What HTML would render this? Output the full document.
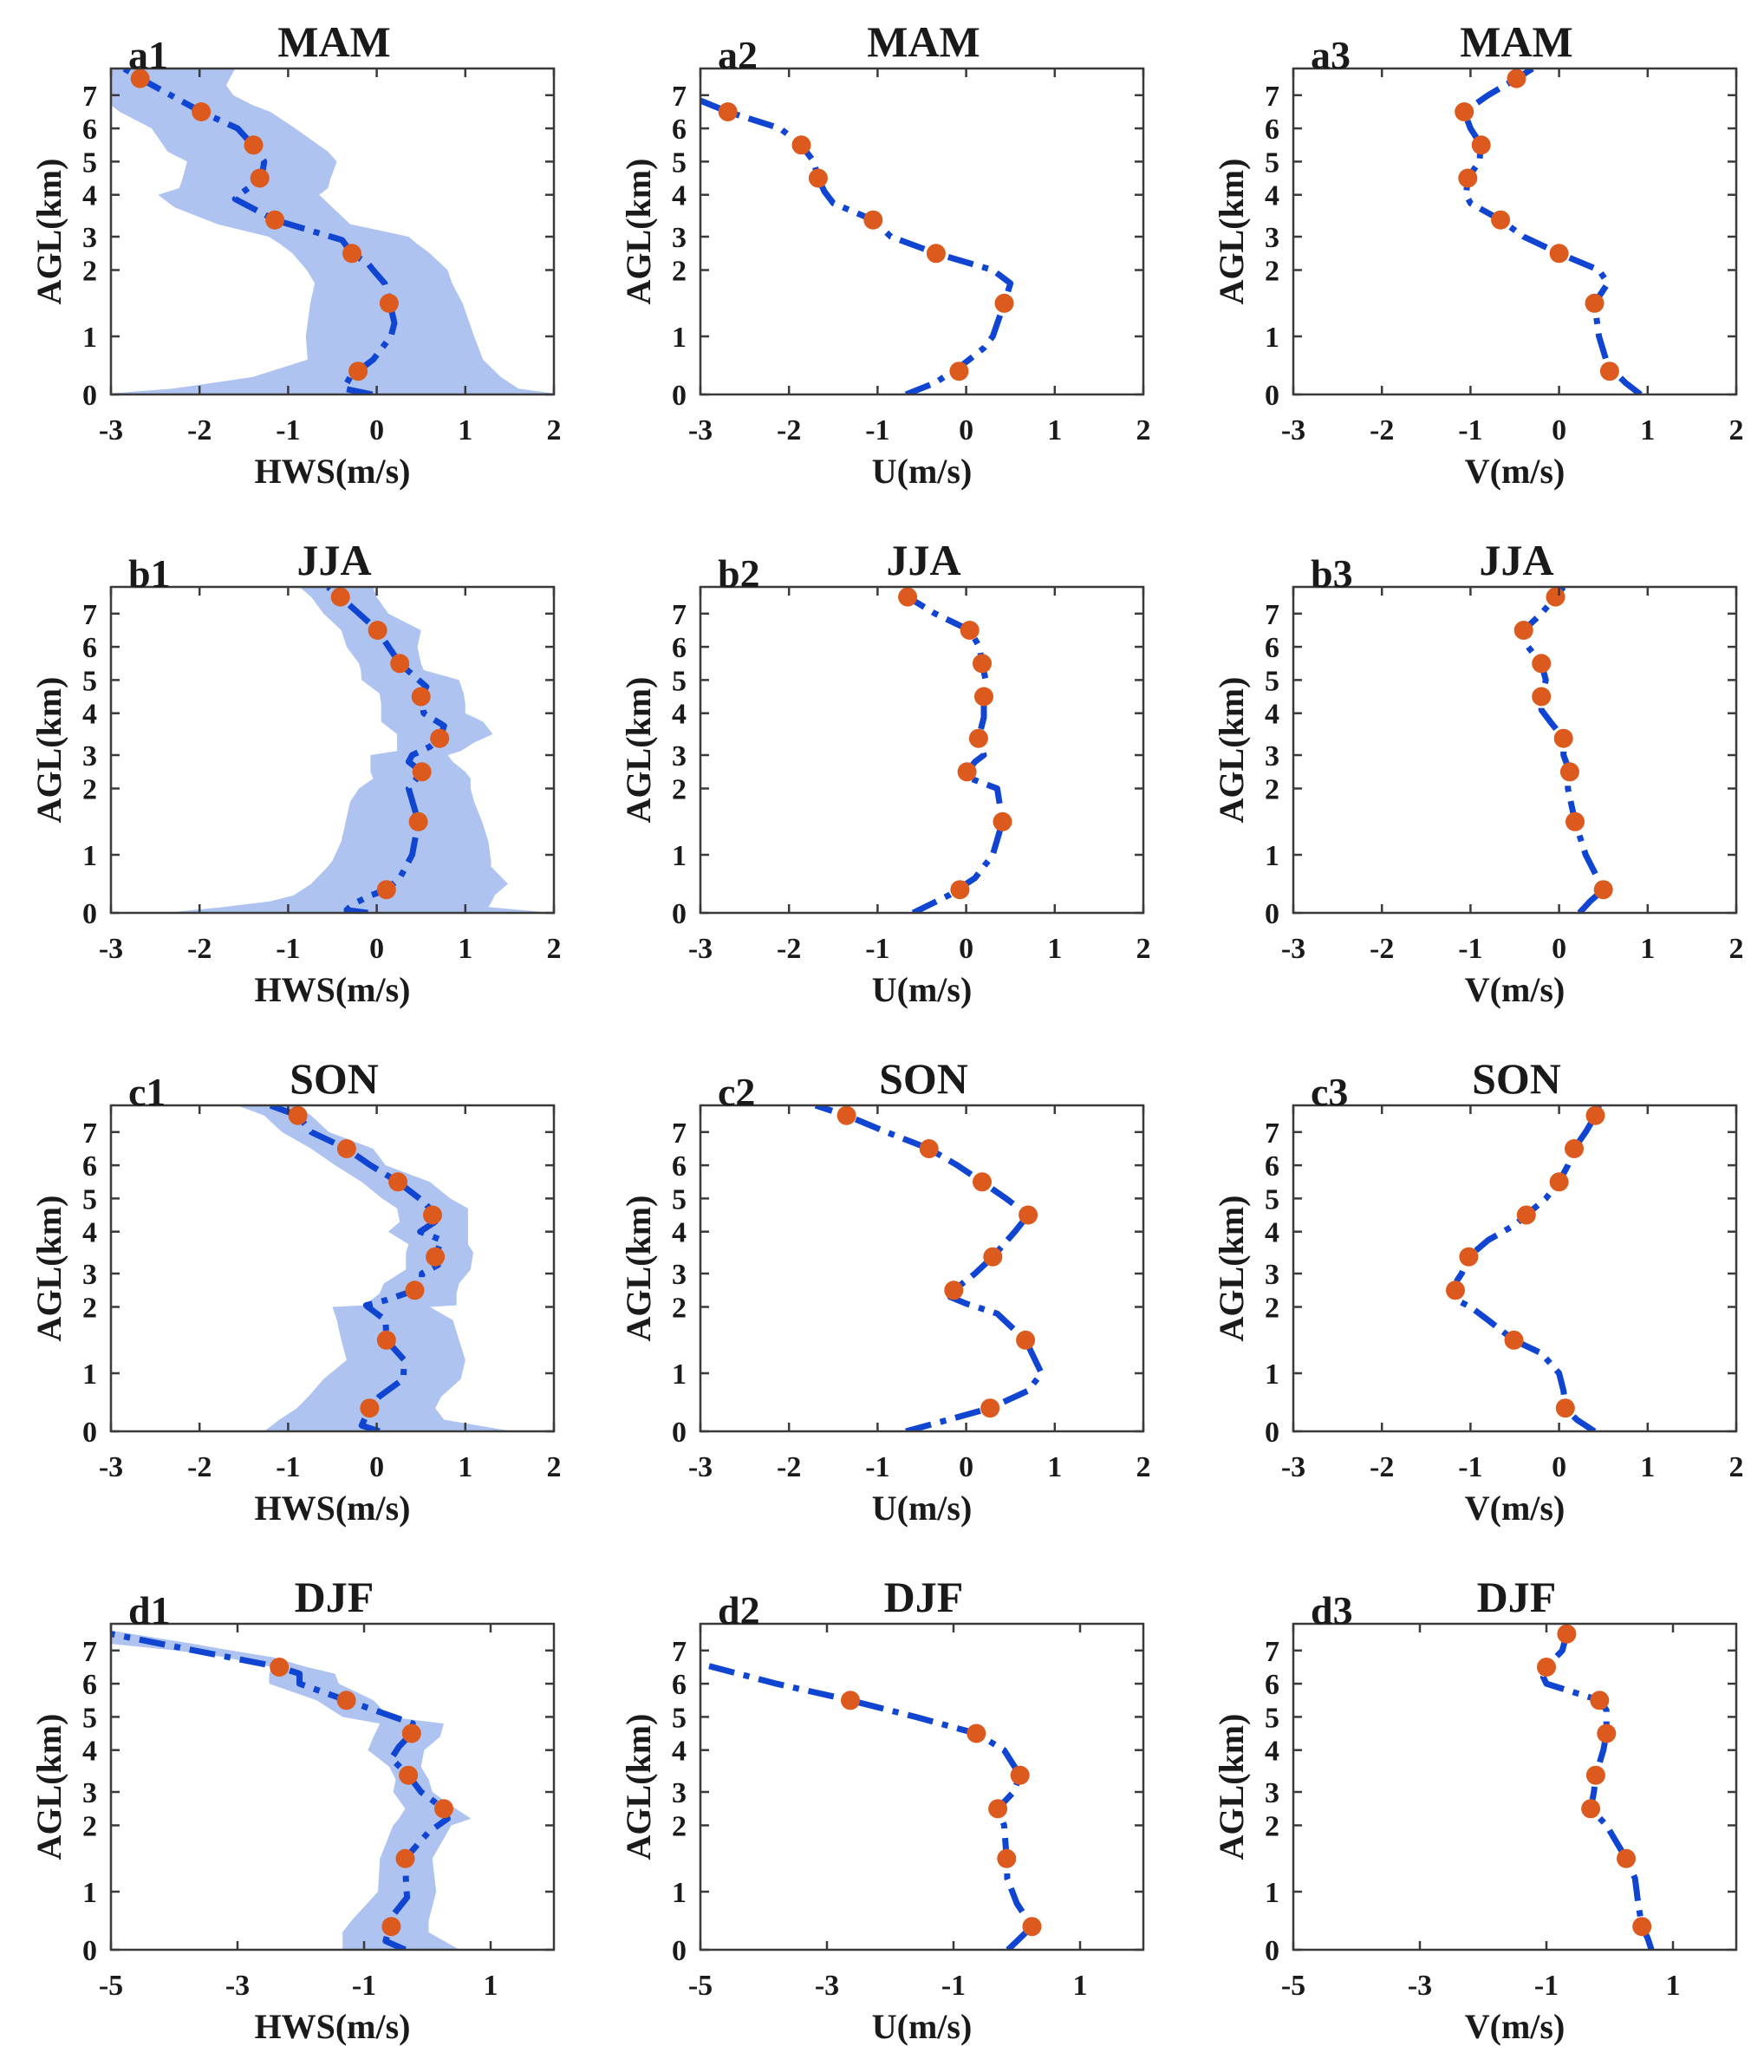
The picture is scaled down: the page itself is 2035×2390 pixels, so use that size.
<!DOCTYPE html>
<html><head><meta charset="utf-8">
<style>
html,body{margin:0;padding:0;background:#fff;}
svg{display:block;}
text{font-family:"Liberation Serif","DejaVu Serif",serif;font-weight:bold;fill:#1a1a1a;}
</style></head>
<body>
<svg id="fig" width="2035" height="2390" viewBox="0 0 2035 2390" xmlns="http://www.w3.org/2000/svg"></svg>
<script>
// ---------- data ----------
const kmTicks = [0,1,2,3,4,5,6,7];
const xTicksABC = [-3,-2,-1,0,1,2];
const xTicksD = [-5,-3,-1,1];
const seasons = ["MAM","JJA","SON","DJF"];
const xLabels = ["HWS(m/s)","U(m/s)","V(m/s)"];
const dotH = [0.4,1.5,2.5,3.4,4.5,5.5,6.5,7.5];

// a1
const a1LineH = [0,0.1,0.3,0.6,1.0,1.2,1.5,1.8,2.0,2.2,2.5,2.9,3.4,3.9,4.0,4.5,5.0,5.5,6.0,6.5,7.4,7.8];
const a1LineX = [-0.05,-0.37,-0.3,-0.04,0.16,0.2,0.15,0.09,-0.04,-0.1,-0.28,-0.39,-1.15,-1.6,-1.55,-1.3,-1.27,-1.4,-1.57,-1.98,-2.6,-2.85];
const a1DotX = [-0.21,0.14,-0.28,-1.15,-1.32,-1.39,-1.98,-2.67];
const a1BandH = [0,0.02,0.1,0.3,0.6,1.0,1.5,1.8,2.0,2.5,2.8,3.0,3.3,3.7,4.0,4.2,4.5,5.0,5.3,6.0,6.5,6.7,7.0,7.3,7.8];
const a1BandLo = [-3,-3,-2.3,-1.4,-0.78,-0.8,-0.75,-0.7,-0.79,-0.95,-1.1,-1.22,-1.8,-2.28,-2.47,-2.23,-2.19,-2.14,-2.36,-2.54,-2.9,-3,-3,-3,-3];
const a1BandHi = [2,1.98,1.6,1.4,1.2,1.1,0.97,0.85,0.8,0.6,0.45,0.36,-0.3,-0.5,-0.65,-0.55,-0.52,-0.45,-0.55,-0.92,-1.2,-1.4,-1.62,-1.7,-1.6];
// b1
const b1LineH = [0,0.05,0.15,0.3,0.4,0.6,1.0,1.5,2.0,2.3,2.5,2.8,3.0,3.2,3.4,3.7,4.0,4.5,4.8,5.5,6.5,7.0,7.5,7.8];
const b1LineX = [-0.1,-0.34,-0.27,-0.07,0.11,0.26,0.4,0.47,0.36,0.45,0.51,0.36,0.4,0.6,0.71,0.76,0.53,0.5,0.56,0.26,0.01,-0.2,-0.41,-0.55];
const b1DotX = [0.11,0.47,0.51,0.71,0.5,0.26,0.01,-0.41];
const b1BandH = [0,0.1,0.2,0.3,0.5,0.8,0.9,1.2,1.5,1.8,2.0,2.3,2.5,2.8,3.0,3.1,3.3,3.5,3.8,4.0,4.3,4.6,5.0,5.3,5.5,6.0,6.5,7.0,7.5,7.8];
const b1BandLo = [-2.4,-1.73,-1.2,-0.94,-0.74,-0.55,-0.5,-0.4,-0.35,-0.3,-0.2,-0.04,-0.07,-0.07,-0.07,0.23,0.23,0.23,0.05,0.05,0.05,0.03,-0.17,-0.18,-0.2,-0.34,-0.4,-0.6,-0.74,-0.87];
const b1BandHi = [2.0,1.26,1.3,1.33,1.48,1.29,1.29,1.26,1.19,1.1,1.06,1.06,1.0,0.86,0.8,0.95,1.1,1.31,1.2,1.0,1.0,0.98,0.93,0.53,0.5,0.46,0.5,0.13,0.0,-0.04];
// c1
const c1LineH = [0,0.1,0.4,0.6,0.9,1.2,1.5,1.8,2.0,2.05,2.2,2.5,2.7,3.0,3.2,3.4,3.8,4.0,4.3,4.6,4.9,5.5,6.0,6.5,7.0,7.5,7.8];
const c1LineX = [0.03,-0.17,-0.08,0.03,0.3,0.31,0.11,0.1,-0.1,-0.12,0.1,0.43,0.51,0.51,0.69,0.66,0.73,0.49,0.66,0.63,0.53,0.24,-0.07,-0.34,-0.74,-0.89,-1.2];
const c1DotX = [-0.08,0.11,0.43,0.66,0.63,0.24,-0.34,-0.89];
const c1BandH = [0,0.2,0.4,0.6,0.9,1.2,1.5,1.8,2.0,2.05,2.4,2.7,3.1,3.5,3.7,4.0,4.3,4.7,5.0,5.5,6.0,6.5,7.0,7.5,7.8];
const c1BandLo = [-1.27,-1.1,-0.9,-0.77,-0.6,-0.34,-0.4,-0.45,-0.5,-0.14,0.03,0.08,0.33,0.33,0.36,0.13,0.26,0.23,0.06,-0.17,-0.47,-0.74,-1.07,-1.27,-1.57];
const c1BandHi = [1.53,0.76,0.66,0.73,0.95,1.0,0.93,0.86,0.6,0.9,0.9,0.93,1.06,1.09,1.03,1.03,1.03,1.03,0.83,0.6,0.1,-0.04,-0.54,-0.74,-0.9];
// d1
const d1LineH = [0,0.15,0.6,0.9,1.2,1.5,1.9,2.2,2.5,3.0,3.4,3.8,4.1,4.5,4.8,5.5,6.0,6.3,6.5,7.0,7.5];
const d1LineX = [-0.35,-0.66,-0.54,-0.32,-0.34,-0.35,0.02,0.32,0.26,-0.1,-0.3,-0.57,-0.45,-0.25,-0.23,-1.28,-2.02,-2.02,-2.34,-3.68,-5.0];
const d1DotH = [0.4,1.5,2.5,3.4,4.5,5.5,6.5];
const d1DotX = [-0.57,-0.35,0.26,-0.3,-0.25,-1.28,-2.34];
const d1BandH = [0,0.3,0.5,1.0,1.5,2.0,2.2,2.5,3.0,3.3,3.6,4.0,4.4,4.8,5.0,5.5,6.0,6.3,6.5,6.8,7.0,7.2,7.6];
const d1BandLo = [-1.34,-1.34,-1.2,-0.78,-0.75,-0.54,-0.45,-0.35,-0.54,-0.5,-0.6,-0.94,-0.85,-0.75,-1.34,-1.75,-2.5,-2.5,-2.45,-3.2,-3.98,-5.0,-5.0];
const d1BandHi = [0.51,0.02,0.02,0.14,0.08,0.38,0.69,0.45,0.08,0.02,-0.1,-0.05,0.2,0.26,-0.6,-0.85,-1.4,-1.46,-1.9,-2.45,-3.1,-3.7,-5.0];
// a2
const a2LineH = [0,0.2,0.5,0.8,1.0,1.5,1.8,2.0,2.5,3.0,3.4,3.8,4.1,4.5,5.0,5.5,6.0,6.5,7.0];
const a2LineX = [-0.68,-0.35,-0.05,0.2,0.3,0.43,0.5,0.3,-0.34,-0.85,-1.05,-1.5,-1.6,-1.67,-1.72,-1.86,-2.1,-2.69,-3.15];
const a2DotH = [0.4,1.5,2.5,3.4,4.5,5.5,6.5];
const a2DotX = [-0.08,0.43,-0.34,-1.05,-1.67,-1.86,-2.69];
// a3
const a3LineH = [0,0.2,0.5,1.0,1.5,1.8,2.0,2.5,3.0,3.4,3.8,4.0,4.5,5.0,5.5,6.0,6.5,7.0,7.5,7.8];
const a3LineX = [0.92,0.75,0.55,0.45,0.4,0.55,0.45,0,-0.4,-0.66,-1.0,-1.05,-1.03,-0.9,-0.88,-1.0,-1.07,-0.8,-0.48,-0.3];
const a3DotX = [0.57,0.4,0,-0.66,-1.03,-0.88,-1.07,-0.48];
// b2
const b2LineH = [0,0.3,0.6,1.0,1.5,2.0,2.3,2.5,2.8,3.0,3.4,3.9,4.5,5.0,5.5,6.0,6.5,7.0,7.5,7.8];
const b2LineX = [-0.6,-0.2,0.1,0.3,0.41,0.35,0.05,0.01,0.1,0.2,0.14,0.2,0.2,0.22,0.18,0.15,0.04,-0.35,-0.66,-0.8];
const b2DotX = [-0.07,0.41,0.01,0.14,0.2,0.18,0.04,-0.66];
// b3
const b3LineH = [0,0.2,0.4,0.7,1.0,1.5,2.0,2.2,2.5,3.0,3.4,3.8,4.1,4.5,5.0,5.5,6.0,6.5,7.0,7.5,7.8];
const b3LineX = [0.23,0.35,0.5,0.4,0.3,0.18,0.1,0.1,0.12,0.05,0.05,-0.1,-0.2,-0.2,-0.15,-0.2,-0.35,-0.4,-0.2,-0.04,0.05];
const b3DotX = [0.5,0.18,0.12,0.05,-0.2,-0.2,-0.4,-0.04];
// c2
const c2LineH = [0,0.2,0.4,0.7,1.0,1.5,1.9,2.1,2.3,2.5,3.0,3.4,4.0,4.5,5.0,5.5,6.0,6.5,7.0,7.5,7.8];
const c2LineX = [-0.68,-0.2,0.27,0.7,0.85,0.67,0.35,0,-0.18,-0.14,0.1,0.3,0.55,0.7,0.45,0.18,-0.1,-0.42,-0.9,-1.35,-1.7];
const c2DotX = [0.27,0.67,-0.14,0.3,0.7,0.18,-0.42,-1.35];
// c3
const c3LineH = [0,0.2,0.4,0.7,1.0,1.3,1.5,1.8,2.0,2.2,2.5,2.8,3.0,3.4,3.8,4.2,4.5,5.0,5.5,6.0,6.5,7.0,7.5,7.8];
const c3LineX = [0.4,0.2,0.07,0.05,0,-0.2,-0.51,-0.8,-1.0,-1.15,-1.17,-1.15,-1.1,-1.02,-0.8,-0.5,-0.37,-0.15,0,0.1,0.17,0.3,0.41,0.45];
const c3DotX = [0.07,-0.51,-1.17,-1.02,-0.37,0,0.17,0.41];
// d2
const d2LineH = [0,0.2,0.4,0.8,1.2,1.5,2.0,2.5,3.0,3.4,4.0,4.5,5.0,5.5,6.0,6.6];
const d2LineX = [-0.14,0.05,0.24,0,-0.15,-0.16,-0.2,-0.3,-0.05,0.05,-0.2,-0.64,-1.6,-2.63,-3.8,-5.0];
const d2DotH = [0.4,1.5,2.5,3.4,4.5,5.5];
const d2DotX = [0.24,-0.16,-0.3,0.05,-0.64,-2.63];
// d3
const d3LineH = [0,0.2,0.4,0.8,1.2,1.5,2.0,2.5,3.0,3.4,4.0,4.5,5.0,5.2,5.5,6.0,6.2,6.5,7.0,7.5,7.8];
const d3LineX = [0.66,0.6,0.51,0.45,0.4,0.26,-0.05,-0.3,-0.25,-0.22,-0.1,-0.05,-0.05,-0.05,-0.16,-1.0,-1.05,-1.0,-0.75,-0.68,-0.65];
const d3DotX = [0.51,0.26,-0.3,-0.22,-0.05,-0.16,-1.0,-0.68];

// ---------- layout ----------
const NS = "http://www.w3.org/2000/svg";
const svg = document.getElementById("fig");
const colX = [128, 808, 1492];
const PW = 511;
const rowBottom = [455, 1053, 1651, 2249];
const PH = 376;
const kmOffsets = [0,67,143.5,182,230.3,268.6,306.9,345.2];

function mk(tag, attrs, parent){
  const e = document.createElementNS(NS, tag);
  for (const k in attrs) e.setAttribute(k, attrs[k]);
  (parent||svg).appendChild(e);
  return e;
}
function yOff(h){
  if (h <= 0) return kmOffsets[0] + h*kmOffsets[1];
  if (h >= 7) return kmOffsets[7] + (h-7)*(kmOffsets[7]-kmOffsets[6]);
  const i = Math.floor(h);
  return kmOffsets[i] + (h-i)*(kmOffsets[i+1]-kmOffsets[i]);
}

const panels = [
  {id:"a1",r:0,c:0,lh:a1LineH,lx:a1LineX,dh:dotH,dx:a1DotX,bh:a1BandH,lo:a1BandLo,hi:a1BandHi},
  {id:"a2",r:0,c:1,lh:a2LineH,lx:a2LineX,dh:a2DotH,dx:a2DotX},
  {id:"a3",r:0,c:2,lh:a3LineH,lx:a3LineX,dh:dotH,dx:a3DotX},
  {id:"b1",r:1,c:0,lh:b1LineH,lx:b1LineX,dh:dotH,dx:b1DotX,bh:b1BandH,lo:b1BandLo,hi:b1BandHi},
  {id:"b2",r:1,c:1,lh:b2LineH,lx:b2LineX,dh:dotH,dx:b2DotX},
  {id:"b3",r:1,c:2,lh:b3LineH,lx:b3LineX,dh:dotH,dx:b3DotX},
  {id:"c1",r:2,c:0,lh:c1LineH,lx:c1LineX,dh:dotH,dx:c1DotX,bh:c1BandH,lo:c1BandLo,hi:c1BandHi},
  {id:"c2",r:2,c:1,lh:c2LineH,lx:c2LineX,dh:dotH,dx:c2DotX},
  {id:"c3",r:2,c:2,lh:c3LineH,lx:c3LineX,dh:dotH,dx:c3DotX},
  {id:"d1",r:3,c:0,lh:d1LineH,lx:d1LineX,dh:d1DotH,dx:d1DotX,bh:d1BandH,lo:d1BandLo,hi:d1BandHi},
  {id:"d2",r:3,c:1,lh:d2LineH,lx:d2LineX,dh:d2DotH,dx:d2DotX},
  {id:"d3",r:3,c:2,lh:d3LineH,lx:d3LineX,dh:dotH,dx:d3DotX}
];

const defs = mk("defs",{});
panels.forEach(p=>{
  const L = colX[p.c], B = rowBottom[p.r], T = B - PH;
  const xmin = p.r===3 ? -5 : -3, xmax = 2;
  const xt = p.r===3 ? xTicksD : xTicksABC;
  const X = v => L + (v - xmin)/(xmax - xmin)*PW;
  const Y = h => B - yOff(h);

  const g = mk("g",{});
  
  

  const cp = mk("clipPath",{id:"clip-"+p.id}, defs);
  mk("rect",{x:L,y:T,width:PW,height:PH}, cp);
  const plot = mk("g",{"clip-path":"url(#clip-"+p.id+")"}, g);

  if (p.bh){
    let pts = [];
    for (let i=0;i<p.bh.length;i++) pts.push(X(p.lo[i]).toFixed(1)+","+Y(p.bh[i]).toFixed(1));
    for (let i=p.bh.length-1;i>=0;i--) pts.push(X(p.hi[i]).toFixed(1)+","+Y(p.bh[i]).toFixed(1));
    const band = mk("polygon",{points:pts.join(" "),fill:"#aec3ef",stroke:"none"}, plot);
    
    
  }
  const lp = p.lh.map((h,i)=>X(p.lx[i]).toFixed(1)+","+Y(h).toFixed(1)).join(" ");
  const line = mk("polyline",{points:lp,fill:"none",stroke:"#1045d2","stroke-width":7,"stroke-dasharray":"30 11 7 11","stroke-linejoin":"round"}, plot);
  
  
  p.dh.forEach((h,i)=>{
    const d = mk("circle",{cx:X(p.dx[i]).toFixed(1),cy:Y(h).toFixed(1),r:11,fill:"#dc5a1e"}, plot);
    
    
  });

  const frame = mk("rect",{x:L,y:T,width:PW,height:PH,fill:"none",stroke:"#3a3a3a","stroke-width":2.5}, g);
  
  

  xt.forEach(v=>{
    const x = X(v);
    mk("line",{x1:x,y1:B,x2:x,y2:B-10,stroke:"#3a3a3a","stroke-width":2.5}, g);
    mk("line",{x1:x,y1:T,x2:x,y2:T+10,stroke:"#3a3a3a","stroke-width":2.5}, g);
    const t = mk("text",{x:x,y:B+52,"text-anchor":"middle","font-size":34}, g);
    t.textContent = String(v);
    
    
  });
  kmTicks.forEach(k=>{
    const y = Y(k);
    mk("line",{x1:L,y1:y,x2:L+10,y2:y,stroke:"#3a3a3a","stroke-width":2.5}, g);
    mk("line",{x1:L+PW,y1:y,x2:L+PW-10,y2:y,stroke:"#3a3a3a","stroke-width":2.5}, g);
    const t = mk("text",{x:L-16,y:y+12,"text-anchor":"end","font-size":34}, g);
    t.textContent = String(k);
    
    
  });
  const xl = mk("text",{x:L+PW/2,y:B+102,"text-anchor":"middle","font-size":40}, g);
  xl.textContent = xLabels[p.c];
  
  
  const yx = L-58, yy = T+PH/2;
  const yl = mk("text",{x:yx,y:yy,"text-anchor":"middle","font-size":40,transform:"rotate(-90 "+yx+" "+yy+")"}, g);
  yl.textContent = "AGL(km)";
  
  
  const tt = mk("text",{x:L+PW/2+2,y:T-14,"text-anchor":"middle","font-size":50}, g);
  tt.textContent = seasons[p.r];
  
  
  const pl = mk("text",{x:L+20,y:T+0,"text-anchor":"start","font-size":46}, g);
  pl.textContent = p.id;
  
  
});
</script>
</body></html>
